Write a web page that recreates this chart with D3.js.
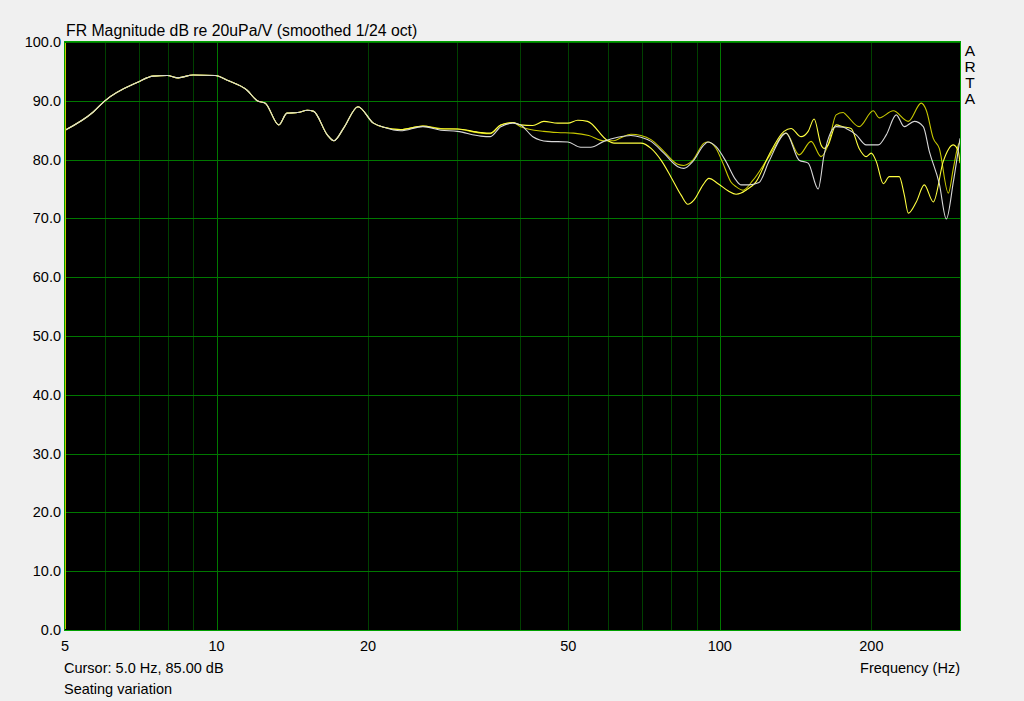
<!DOCTYPE html>
<html><head><meta charset="utf-8">
<script src="https://cdn.jsdelivr.net/npm/d3@7"></script>
<style>
body{margin:0;background:#f0f0f0;}
svg{display:block;}
text{font-family:Arial,"Liberation Sans",sans-serif;fill:#000;}
</style>
</head><body>
<svg id="c" width="1024" height="701"></svg>
<script>
// ---- data (frequency in Hz, level in dB) ----
const commonFreq = [5, 5.69, 6.0, 6.99, 7.48, 7.98, 8.39, 8.98, 9.94, 10.5, 11.5, 12.05, 12.5, 13.3, 13.8, 14.5, 15.15, 15.6, 16.6, 17.1, 17.9, 19.1, 20.5, 21.5];
const commonDb   = [85.0, 88.1, 90.0, 93.2, 94.2, 94.3, 93.9, 94.4, 94.3, 93.5, 91.8, 90.0, 89.6, 85.9, 87.9, 88.0, 88.4, 88.2, 84.2, 83.2, 85.4, 89.0, 86.2, 85.5];

const brightFreq = [23.2, 25.7, 27.9, 30.1, 33.5, 35.0, 36.7, 38.8, 40.2, 42.5, 44.7, 47.6, 49.9, 52.2, 54.6, 59.9, 61.6, 66.6, 69.7, 73.0, 76.4, 79.9, 83.7, 86.4, 88.8, 92.6, 95.1, 99.2, 103.8, 107.7, 110.2, 112.7, 118.0, 125.2, 134.1, 138.5, 145.0, 149.8, 153.9, 158.9, 161.1, 164.1, 170.2, 175.8, 182.3, 189.1, 195.3, 199.9, 204.5, 211.2, 217.1, 227.2, 232.5, 236.8, 245.6, 254.8, 265.5, 277.9, 291.0, 297.7, 300];
const brightDb   = [85.1, 85.7, 85.2, 85.2, 84.6, 84.5, 85.9, 86.3, 85.9, 85.8, 86.5, 86.2, 86.2, 86.7, 86.5, 83.2, 82.8, 82.8, 82.8, 81.9, 79.9, 77.1, 74.0, 72.4, 73.1, 75.7, 76.8, 75.9, 74.7, 74.1, 74.3, 74.8, 76.2, 80.8, 84.8, 85.3, 83.9, 84.8, 86.9, 82.5, 81.9, 82.5, 85.9, 85.6, 85.3, 81.9, 80.5, 81.1, 79.7, 75.9, 77.1, 77.1, 74.0, 70.9, 72.8, 75.7, 72.8, 79.7, 82.5, 81.4, 79.4];

const darkFreq = [23.2, 25.7, 27.9, 30.1, 33.5, 35.0, 36.7, 38.8, 40.2, 44.7, 47.6, 51.2, 54.9, 58.8, 61.6, 63.6, 66.6, 69.7, 73.0, 77.4, 82.5, 84.8, 88.4, 93.0, 94.7, 98.3, 101.4, 105.2, 107.7, 111.2, 116.4, 125.2, 135.4, 143.7, 151.8, 158.9, 164.1, 170.2, 175.8, 178.2, 189.1, 201.7, 207.3, 221.1, 236.8, 251.3, 257.1, 265.5, 272.9, 284.4, 291.0, 297.7, 300];
const darkDb   = [85.1, 85.7, 85.3, 85.2, 84.5, 84.4, 85.9, 86.3, 85.6, 84.8, 84.6, 84.5, 84.1, 83.2, 83.2, 83.7, 84.3, 84.1, 83.4, 81.4, 79.2, 79.0, 79.9, 82.8, 83.0, 81.9, 79.4, 76.2, 75.4, 74.8, 76.5, 80.5, 84.5, 80.8, 83.1, 80.5, 82.5, 87.6, 88.0, 87.6, 85.6, 88.3, 87.1, 88.3, 86.5, 89.6, 88.4, 83.6, 81.9, 74.3, 78.5, 82.5, 83.0];

const grayFreq = [23.2, 25.7, 27.9, 30.1, 33.5, 35.0, 36.7, 38.8, 40.2, 42.5, 45.5, 49.9, 52.9, 55.4, 58.8, 62.7, 66.6, 69.7, 73.0, 77.4, 82.5, 84.8, 88.4, 93.0, 94.7, 98.3, 102.8, 107.7, 110.2, 114.3, 119.6, 125.2, 135.4, 143.7, 149.8, 156.8, 161.1, 170.2, 175.8, 178.2, 186.6, 195.3, 206.4, 214.1, 224.1, 232.5, 243.4, 253.6, 260.7, 272.9, 281.8, 291.0, 300];
const grayDb   = [84.9, 85.6, 85.0, 84.8, 84.0, 83.9, 85.6, 86.2, 85.9, 83.9, 83.1, 83.0, 82.1, 82.1, 83.1, 83.8, 84.1, 83.8, 83.1, 81.1, 78.8, 78.5, 79.7, 82.5, 83.0, 82.2, 79.7, 76.5, 75.7, 75.7, 76.1, 79.7, 84.5, 79.9, 79.4, 75.0, 80.8, 85.6, 85.5, 85.3, 84.2, 82.5, 82.5, 84.2, 87.6, 85.6, 86.5, 85.6, 81.4, 75.9, 69.9, 76.2, 83.6];

const yTicks = [0, 10, 20, 30, 40, 50, 60, 70, 80, 90, 100];
const xTickLabels = [5, 10, 20, 50, 100, 200];
const xMajorGrid = [10, 100];
const xMinorGrid = [6, 7, 8, 9, 20, 30, 40, 50, 60, 70, 80, 90, 200];

const titleText = "FR Magnitude dB re 20uPa/V (smoothed 1/24 oct)";
const cursorText = "Cursor: 5.0 Hz, 85.00 dB";
const noteText = "Seating variation";
const xAxisTitle = "Frequency (Hz)";
const brandLetters = ["A", "R", "T", "A"];

// ---- layout ----
const L = 65, R = 960, T = 42, B = 630;
const svg = d3.select("#c");
const x = d3.scaleLog().domain([5, 300]).range([L, R]);
const y = d3.scaleLinear().domain([0, 100]).range([B, T]);

svg.append("rect").attr("x", L).attr("y", T).attr("width", R - L).attr("height", B - T).attr("fill", "#000");

const g = svg.append("g").attr("shape-rendering", "crispEdges");
g.selectAll("line.minor").data(xMinorGrid).enter().append("line")
  .attr("x1", d => Math.round(x(d)) + 0.5).attr("x2", d => Math.round(x(d)) + 0.5)
  .attr("y1", T).attr("y2", B).attr("stroke", "#004000").attr("stroke-width", 1);
g.selectAll("line.major").data(xMajorGrid).enter().append("line")
  .attr("x1", d => Math.round(x(d)) + 0.5).attr("x2", d => Math.round(x(d)) + 0.5)
  .attr("y1", T).attr("y2", B).attr("stroke", "#007800").attr("stroke-width", 1);
g.selectAll("line.h").data(yTicks).enter().append("line")
  .attr("x1", L).attr("x2", R)
  .attr("y1", d => Math.round(y(d)) + 0.5).attr("y2", d => Math.round(y(d)) + 0.5)
  .attr("stroke", "#007800").attr("stroke-width", 1);

// curves
const lineGen = d3.line().x(d => x(d[0])).y(d => y(d[1])).curve(d3.curveMonotoneX);
function series(f, v) {
  const pts = commonFreq.map((c, i) => [c, commonDb[i]]);
  return pts.concat(f.map((c, i) => [c, v[i]]));
}
const plot = svg.append("g");
plot.append("path").attr("d", lineGen(series(darkFreq, darkDb))).attr("fill", "none").attr("stroke", "#c8c800").attr("stroke-width", 1.1);
plot.append("path").attr("d", lineGen(series(brightFreq, brightDb))).attr("fill", "none").attr("stroke", "#ffff40").attr("stroke-width", 1.1);
plot.append("path").attr("d", lineGen(series(grayFreq, grayDb))).attr("fill", "none").attr("stroke", "#d8d8d8").attr("stroke-width", 1.1);

// border
svg.append("rect").attr("x", L - 0.5).attr("y", T - 0.5).attr("width", R - L + 1).attr("height", B - T + 1)
  .attr("fill", "none").attr("stroke", "#00a000").attr("stroke-width", 1).attr("shape-rendering", "crispEdges");
// cursor line at 5 Hz
svg.append("line").attr("x1", x(5) + 0.5).attr("x2", x(5) + 0.5).attr("y1", T + 1).attr("y2", B - 1)
  .attr("stroke", "#c8c800").attr("stroke-width", 1).attr("shape-rendering", "crispEdges");

// y labels
svg.selectAll("text.yl").data(yTicks).enter().append("text")
  .attr("x", 61).attr("y", d => y(d)).attr("dy", "0.35em").attr("text-anchor", "end")
  .style("font-size", "14.5px").text(d => d.toFixed(1));

// x labels
svg.selectAll("text.xl").data(xTickLabels).enter().append("text")
  .attr("x", d => x(d)).attr("y", 646).attr("dy", "0.35em").attr("text-anchor", "middle")
  .style("font-size", "14.5px").text(d => d);

svg.append("text").attr("x", 66).attr("y", 36).style("font-size", "15.8px").text(titleText);
svg.append("text").attr("x", 64).attr("y", 668).attr("dy", "0.35em").style("font-size", "14.5px").text(cursorText);
svg.append("text").attr("x", 64).attr("y", 689).attr("dy", "0.35em").style("font-size", "14.5px").text(noteText);
svg.append("text").attr("x", 960).attr("y", 668).attr("dy", "0.35em").attr("text-anchor", "end").style("font-size", "14.5px").text(xAxisTitle);

svg.selectAll("text.brand").data(brandLetters).enter().append("text")
  .attr("x", 970).attr("y", (d, i) => 51 + i * 15.7).attr("dy", "0.35em").attr("text-anchor", "middle")
  .style("font-size", "15.5px").text(d => d);
</script>
</body></html>
